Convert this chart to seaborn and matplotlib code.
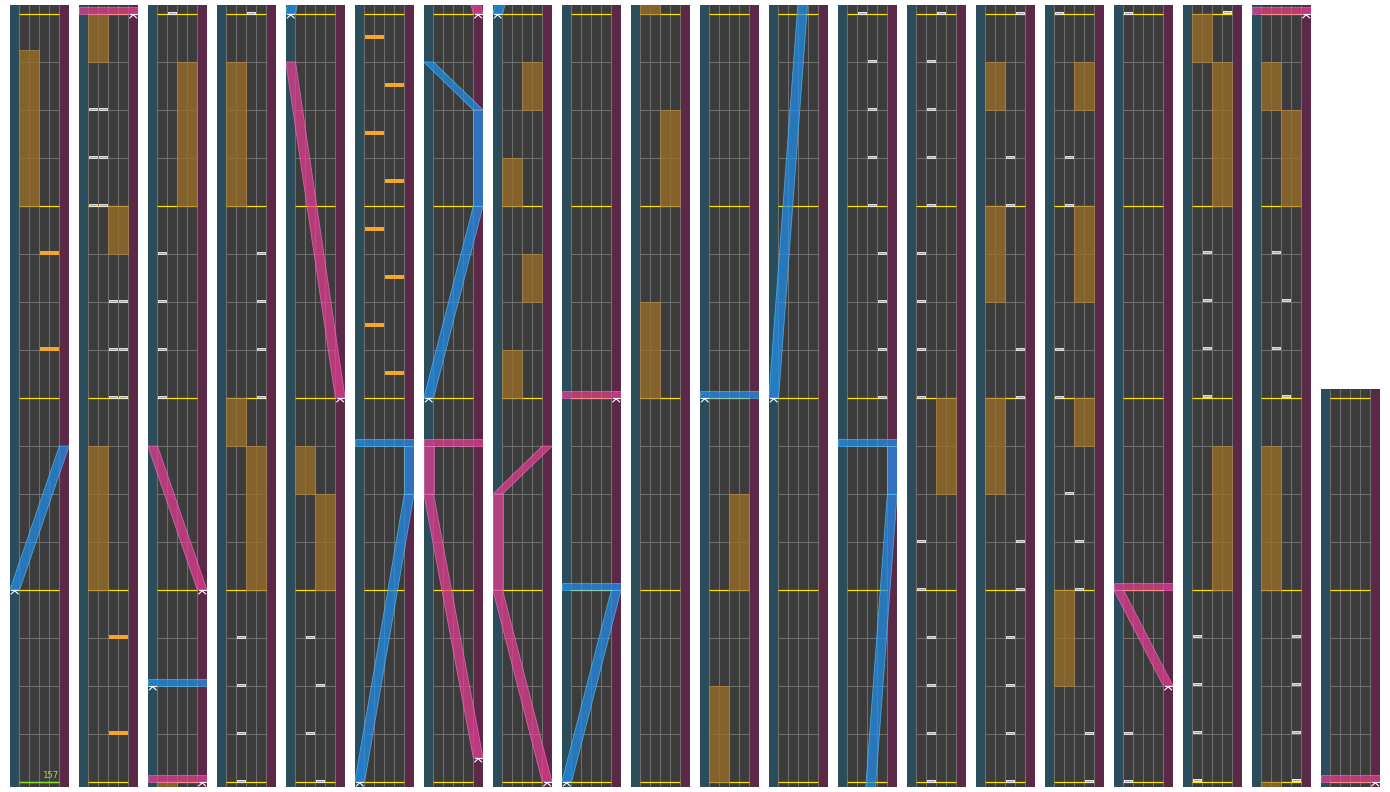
import numpy as np
import pandas as pd
import matplotlib
matplotlib.use("Agg")
import matplotlib.pyplot as plt
import seaborn as sns
from matplotlib.path import Path

# ---------------- chart data (beats; 4 beats per measure) ----------------
total_beats = 312
beats_per_column = 16

bpm_beats = [0]
bpm_values = [157]

# FX long notes: side L/R, start beat, end beat
fx_hold_side = ["L", "L", "R", "L", "R", "L", "L", "R", "L", "R",
                "R", "L", "R", "L", "R", "L", "L", "R",
                "R", "L", "L", "L",
                "R", "R", "R", "L",
                "L", "R", "R",
                "L", "R", "L"]
fx_hold_start = [12, 31, 27, 20, 44, 60, 55, 52, 70, 68,
                 126, 124, 122, 120, 156, 152, 160, 164,
                 214, 238, 234, 230,
                 254, 250, 247, 242,
                 287, 284, 276,
                 302, 300, 292]
fx_hold_end = [15.25, 32, 28, 23, 47, 63, 56, 55, 71, 70,
               127, 125, 123, 121, 158, 154, 162, 166,
               216, 239, 236, 232,
               255, 252, 248, 244,
               288, 287, 279,
               303, 302, 295]

# FX chips
fx_chip_side = ["R", "R", "R", "R",
                "L", "R", "L", "R", "L", "R", "L", "R"]
fx_chip_beat = [11, 9, 19, 17,
                95.5, 94.5, 93.5, 92.5, 91.5, 90.5, 89.5, 88.5]

# BT chips: lane 0..3 (A..D)
bt_lane = [0, 1, 0, 1, 0, 1, 2, 3, 2, 3, 2, 3,
           1, 0, 0, 0, 0,
           2, 3, 3, 3, 3, 1, 1, 1, 1,
           1, 2, 1, 2,
           1, 2, 2, 2, 2, 3, 3, 3, 3,
           2, 1, 1, 1, 1, 0, 0, 0, 0, 0, 0, 1, 1, 1, 1,
           3, 2, 2, 3, 3, 3, 3, 2, 2, 2, 2,
           0, 1, 1, 0, 0, 1, 2, 2, 3, 3,
           0, 0, 0,
           3, 1, 1, 1, 1, 0, 0, 0, 0,
           1, 2, 1, 2, 3, 3, 3, 3]
bt_beat = [30, 30, 29, 29, 28, 28, 26, 26, 25, 25, 24, 24,
           48, 43, 42, 41, 40,
           64, 59, 58, 57, 56, 51, 50, 49, 48,
           67, 66, 65, 64,
           208, 207, 206, 205, 204, 203, 202, 201, 200,
           224, 223, 222, 221, 220, 219, 218, 217, 216, 213, 212, 211, 210, 209, 208,
           240, 237, 236, 233, 232, 229, 228, 227, 226, 225, 224,
           256, 253, 252, 249, 248, 246, 245, 244, 241, 240,
           272, 257, 256,
           288, 283, 282, 281, 280, 275, 274, 273, 272,
           299, 298, 297, 296, 291, 290, 289, 288]

# Lasers: point lists (beat, position 0=left .. 1=right); equal beats = slam
blue_laser_beats = [[4, 7], [34, 34], [80, 86, 87, 87], [104, 108, 110, 111],
                    [128, 132, 132], [168, 168], [184, 198, 199, 199]]
blue_laser_pos = [[0, 1], [0, 1], [0, 1, 1, 0], [0, 1, 1, 0],
                  [0, 1, 0], [0, 1], [0, 1, 1, 0]]
pink_laser_beats = [[32, 32], [36, 39], [72, 79], [96.5, 102, 103, 103],
                    [112, 116, 118, 119], [136, 136], [258, 260, 260], [304, 304]]
pink_laser_pos = [[1, 0], [1, 0], [1, 0], [1, 0, 0, 1],
                  [1, 0, 0, 1], [1, 0], [1, 0, 1], [1, 0]]

# ---------------- styling ----------------
sns.set_style("white")
plt.rcParams["font.family"] = ["DejaVu Sans Mono", "DejaVu Sans"]

W, H = 1390, 792
PX = 48.0                     # pixels per beat
LANE_BG = "#3c3c3c"
LSTRIP = "#2b4d5b"
RSTRIP = "#5b2848"
GRID = "#6e6e6e"
YELLOW = "#ffe100"
HOLD = "#986e28"
FXCHIP = "#f6a52a"
BLUE = (0.13, 0.56, 0.93)
PINK = (0.90, 0.24, 0.57)
LW = 0.8
HW = 0.49                     # half laser width (lane units)
SLAM_H = 7 / PX


def lx(p):
    return -0.46 + 4.95 * p


bt_df = pd.DataFrame({"x": np.array(bt_lane) + 0.5,
                      "y": np.array(bt_beat) + 1.5 / PX})
fx_df = pd.DataFrame({"x": [1.0 if s == "L" else 3.0 for s in fx_chip_side],
                      "y": np.array(fx_chip_beat) + 1.5 / PX})

bt_marker = Path([(-1, -0.34), (1, -0.34), (1, 0.34), (-1, 0.34), (-1, -0.34)])
fx_marker = Path([(-1, -0.16), (1, -0.16), (1, 0.16), (-1, 0.16), (-1, -0.16)])

lasers = ([(b, p, BLUE) for b, p in zip(blue_laser_beats, blue_laser_pos)] +
          [(b, p, PINK) for b, p in zip(pink_laser_beats, pink_laser_pos)])

fig = plt.figure(figsize=(W / 100, H / 100), dpi=100, facecolor="white")

n_cols = int(np.ceil(total_beats / beats_per_column))
for c in range(n_cols):
    x0 = 10 + 69 * c
    t0 = c * beats_per_column
    t1 = min(t0 + beats_per_column, total_beats)
    ylo, yhi = t0 - 5 / PX, t1 + 9 / PX
    hpx = (yhi - ylo) * PX
    ax = fig.add_axes([x0 / W, 5 / H, 59 / W, hpx / H])
    ax.axvspan(-0.93, 0, color=LSTRIP, lw=0, zorder=0)
    ax.axvspan(0, 4, color=LANE_BG, lw=0, zorder=0)
    ax.axvspan(4, 4.97, color=RSTRIP, lw=0, zorder=0)
    ax.vlines([0, 1, 2, 3, 4], ylo, yhi, color=GRID, lw=LW, zorder=1)
    beats = np.arange(t0, t1 + 1)
    ax.hlines(beats[beats % 4 != 0], 0, 4, color=GRID, lw=LW, zorder=1)
    ax.hlines(beats[beats % 4 == 0], 0, 4, color=YELLOW, lw=LW * 1.1, zorder=1.5)

    # BPM marker
    for bb, bv in zip(bpm_beats, bpm_values):
        if ylo <= bb <= yhi:
            ax.hlines(bb, 0, 4, color="#86e01e", lw=LW * 1.2, zorder=1.6)
            ax.text(3.95, bb + 1.5 / PX, str(bv), color="#9be22d",
                    fontsize=6.5, ha="right", va="bottom", zorder=1.6)

    # FX holds
    xs = [1.0 if s == "L" else 3.0 for s in fx_hold_side]
    ax.bar(xs, np.array(fx_hold_end) - np.array(fx_hold_start),
           bottom=fx_hold_start, width=2.0, color=HOLD, alpha=0.78,
           edgecolor="#b08848", linewidth=0.6, zorder=2)

    # chips
    sns.scatterplot(data=fx_df, x="x", y="y", ax=ax, marker=fx_marker,
                    s=(19 * 0.72) ** 2, color=FXCHIP, linewidth=0,
                    legend=False, zorder=3)
    sns.scatterplot(data=bt_df, x="x", y="y", ax=ax, marker=bt_marker,
                    s=(8.7 * 0.72) ** 2, color="#a8a8a8",
                    edgecolor="#f2f2f2", linewidth=0.6,
                    legend=False, zorder=3)

    # lasers
    for lb, lp, col in lasers:
        face = (*col, 0.72)
        edge = (min(col[0] + 0.25, 1), min(col[1] + 0.25, 1), min(col[2] + 0.25, 1), 0.6)
        for i in range(len(lb) - 1):
            ta, tb = lb[i], lb[i + 1]
            xa, xb = lx(lp[i]), lx(lp[i + 1])
            if tb == ta:
                xl, xr = min(xa, xb) - HW, max(xa, xb) + HW
                ax.fill([xl, xr, xr, xl], [ta, ta, ta + SLAM_H, ta + SLAM_H],
                        facecolor=face, edgecolor=edge, lw=0.6, zorder=4)
            else:
                ax.fill([xa - HW, xa + HW, xb + HW, xb - HW], [ta, ta, tb, tb],
                        facecolor=face, edgecolor=edge, lw=0.6, zorder=4)
        # start marker
        sx, st = lx(lp[0]), lb[0]
        ax.plot([sx - 0.35, sx + 0.35], [st, st], color="white", lw=0.8, zorder=5)
        ax.plot([sx - 0.35, sx, sx + 0.35], [st - 4 / PX, st - 0.7 / PX, st - 4 / PX],
                color="white", lw=0.8, zorder=5)

    ax.set_xlim(-0.93, 4.97)
    ax.set_ylim(ylo, yhi)
    ax.set_xlabel("")
    ax.set_ylabel("")
    ax.axis("off")

fig.savefig("out.png", dpi=100, facecolor="white")
